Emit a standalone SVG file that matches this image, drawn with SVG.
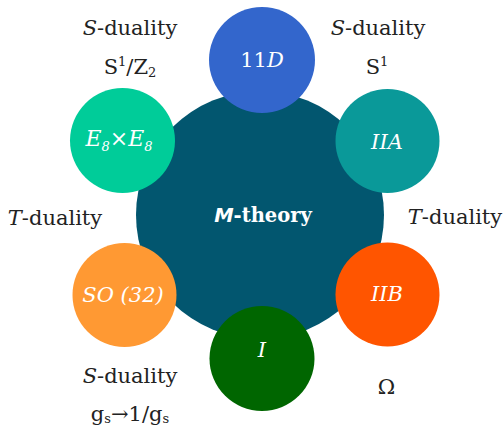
<svg xmlns="http://www.w3.org/2000/svg" width="503" height="430" viewBox="0 0 503 430">
<style>
.lbl{font-family:"DejaVu Serif",serif;font-size:21px;fill:#222;text-anchor:middle}
.nl{font-family:"DejaVu Serif",serif;font-size:21px;fill:#fff;text-anchor:middle}
.it{font-style:italic}
.sub{font-size:13px}
</style>
<rect width="503" height="430" fill="#fff"/>
<g id="connectors"></g>
<g id="mtheory">
<circle cx="260" cy="215" r="124" fill="#02566f"/>
<text x="263" y="222" style="font-family:'DejaVu Serif',serif;font-size:19.5px;font-weight:bold;fill:#fff;text-anchor:middle"><tspan style="font-family:'DejaVu Sans',sans-serif;font-style:italic">M</tspan>-theory</text>
</g>
<g id="n11d">
<circle cx="262" cy="60" r="53" fill="#3366cc"/>
<text class="nl" x="262" y="67">11<tspan class="it">D</tspan></text>
</g>
<g id="niia">
<circle cx="387.5" cy="141" r="52" fill="#0a9999"/>
<text class="nl it" x="387" y="149">IIA</text>
</g>
<g id="niib">
<circle cx="387.5" cy="294.5" r="52" fill="#ff5500"/>
<text class="nl it" x="387" y="301">IIB</text>
</g>
<g id="ni">
<circle cx="262" cy="358.5" r="52.5" fill="#006600"/>
<text class="nl it" x="262" y="357">I</text>
</g>
<g id="nso32">
<circle cx="124.5" cy="295" r="52" fill="#ff9933"/>
<text class="nl it" x="123" y="302">SO (32)</text>
</g>
<g id="ne8">
<circle cx="122.5" cy="140.5" r="52.5" fill="#00cc99"/>
<text class="nl it" x="119" y="146" style="font-size:22px">E<tspan class="sub" dy="5">8</tspan><tspan dy="-5" style="font-style:normal">×</tspan>E<tspan class="sub" dy="5">8</tspan></text>
</g>
<g id="labels">
<text class="lbl" x="130" y="35"><tspan class="it">S</tspan>-duality</text>
<text class="lbl" x="130" y="74">S<tspan class="sub" dy="-8">1</tspan><tspan dy="8">/Z</tspan><tspan class="sub" dy="3">2</tspan></text>
<text class="lbl" x="378" y="35"><tspan class="it">S</tspan>-duality</text>
<text class="lbl" x="377" y="74">S<tspan class="sub" dy="-8">1</tspan></text>
<text class="lbl" x="55" y="225"><tspan class="it">T</tspan>-duality</text>
<text class="lbl" x="455" y="224"><tspan class="it">T</tspan>-duality</text>
<text class="lbl" x="130" y="383"><tspan class="it">S</tspan>-duality</text>
<text class="lbl" x="130" y="421">g<tspan class="sub" dy="2">s</tspan><tspan dy="-2">→1/g</tspan><tspan class="sub" dy="2">s</tspan></text>
<text class="lbl" x="386.5" y="394">Ω</text>
</g>
</svg>
